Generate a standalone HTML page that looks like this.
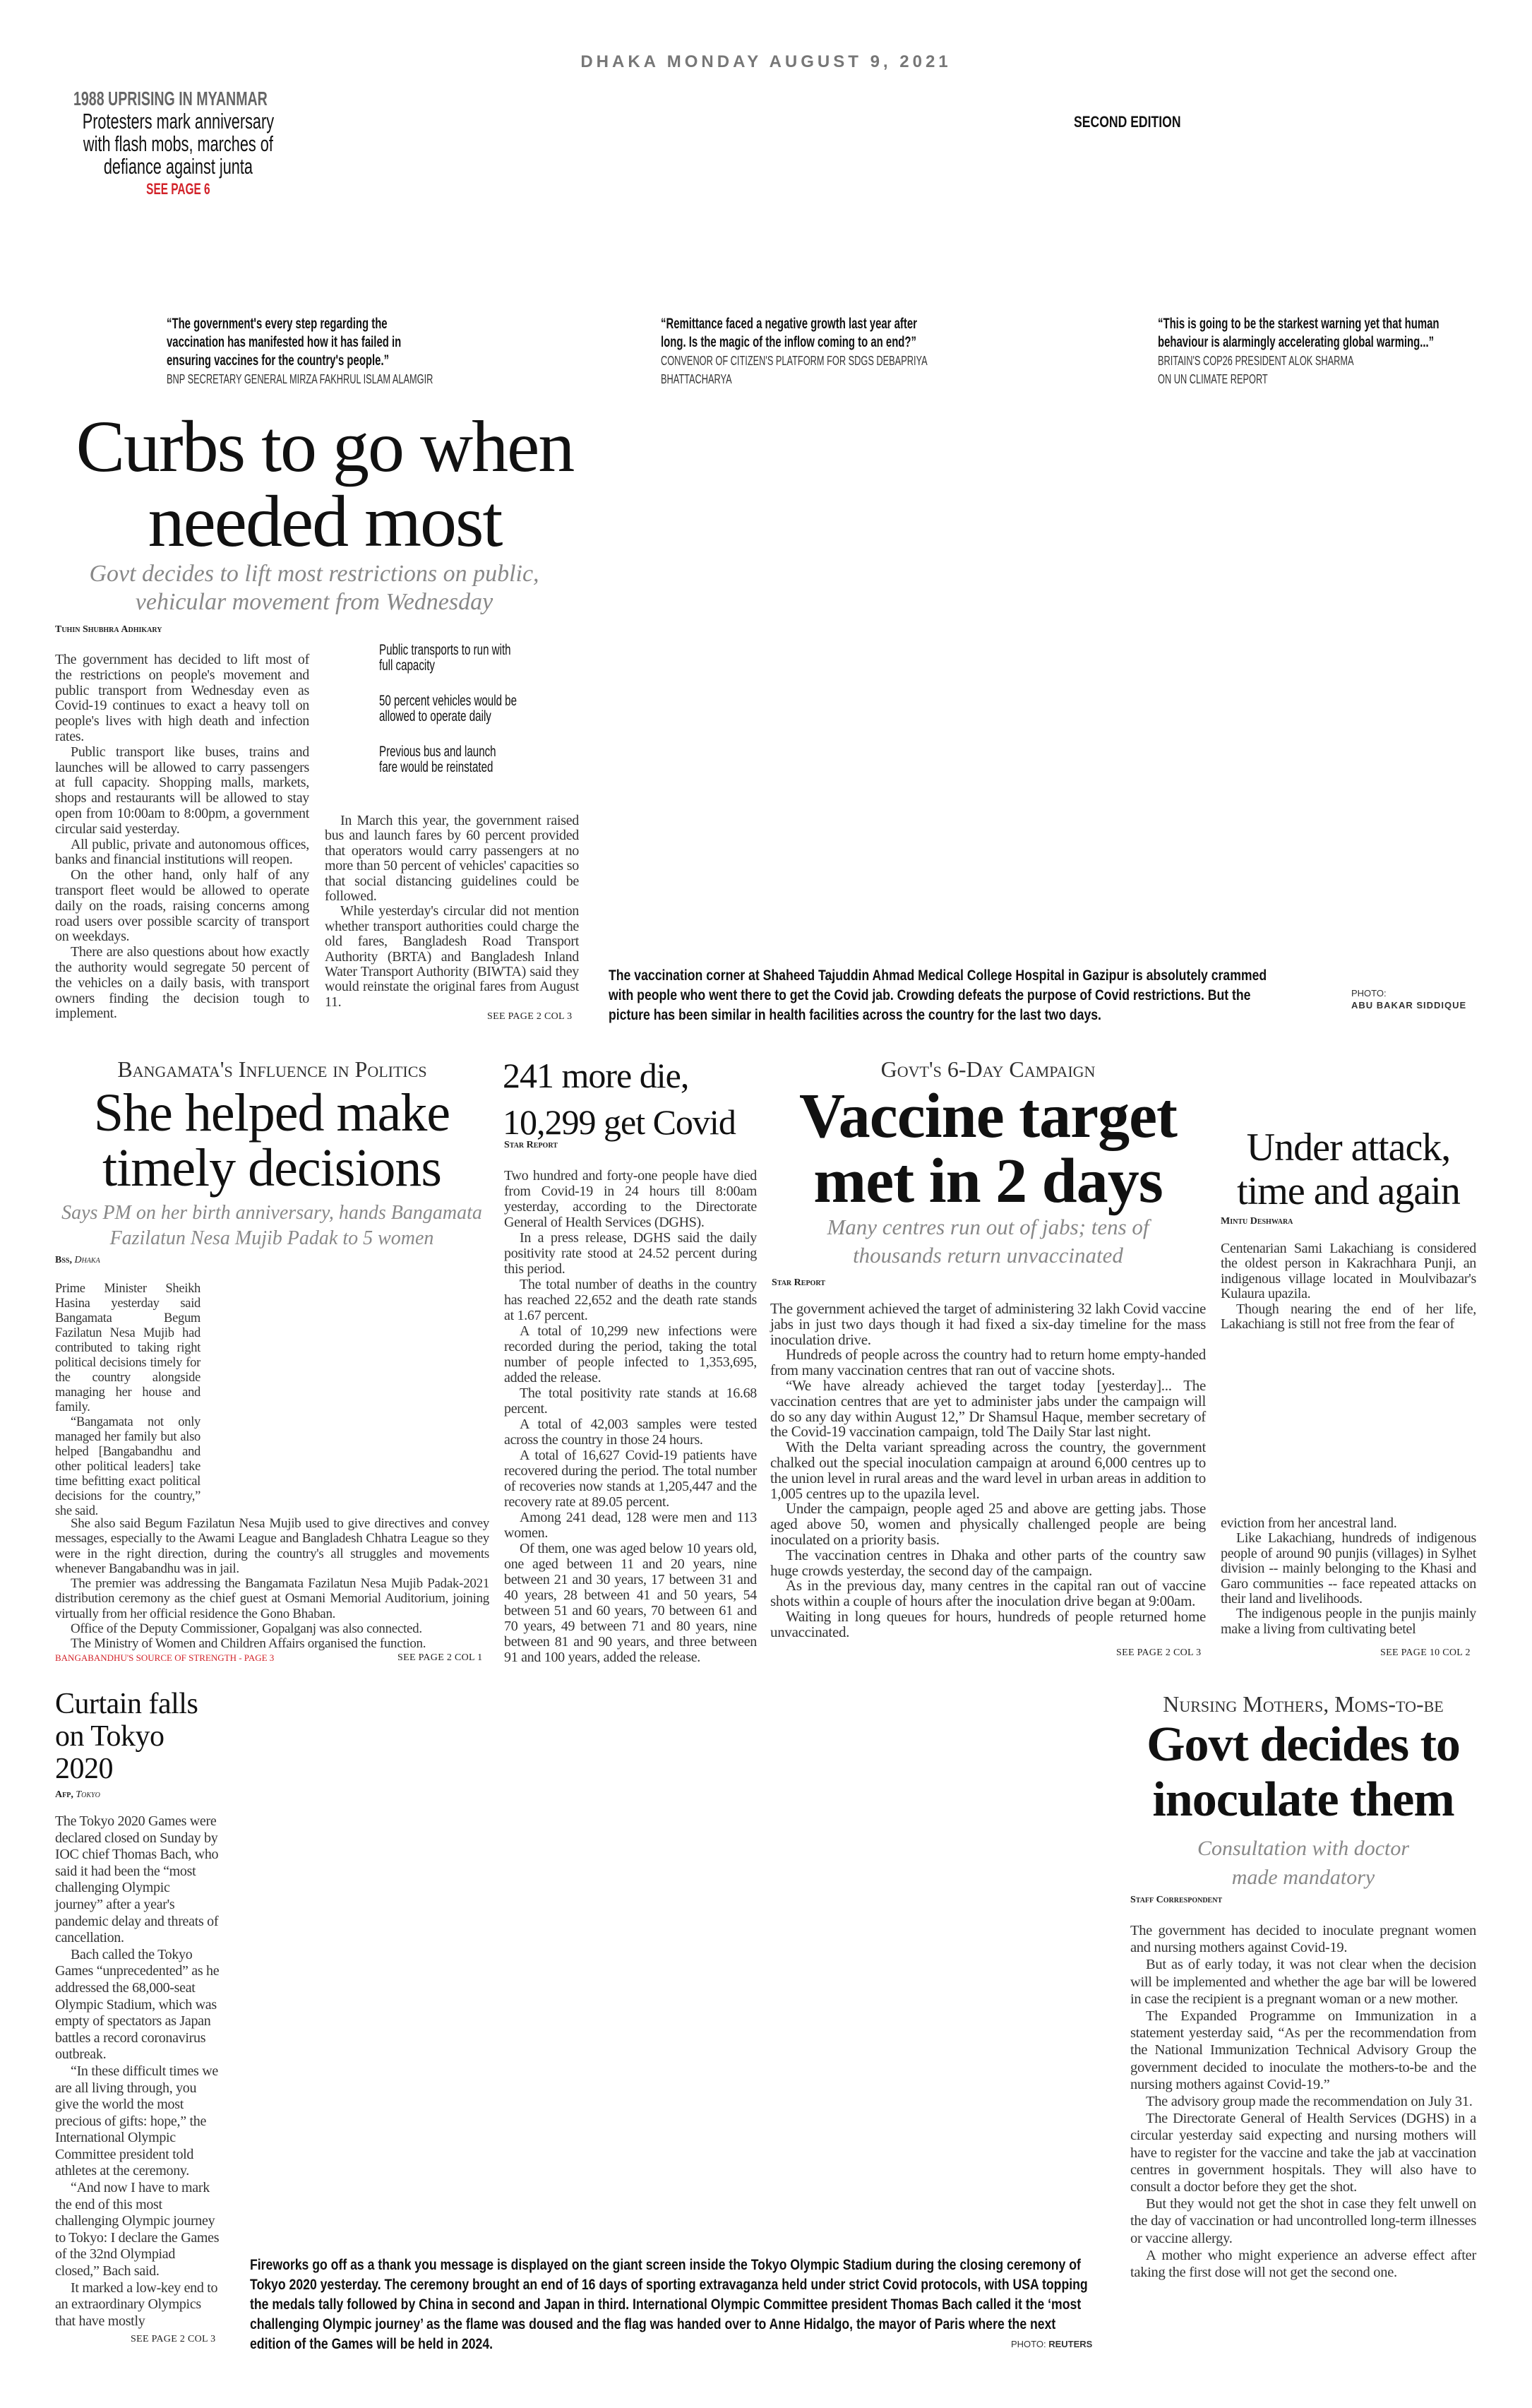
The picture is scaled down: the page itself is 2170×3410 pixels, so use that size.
<!DOCTYPE html>
<html><head><meta charset="utf-8">
<style>
*{margin:0;padding:0;box-sizing:border-box}
body{width:2170px;height:3410px;background:#fff;position:relative;overflow:hidden;font-family:"Liberation Serif",serif;color:#222}
.a{position:absolute}
.nar{font-family:"Liberation Sans",sans-serif}
.cx{transform-origin:left top}
.body{font-family:"Liberation Serif",serif;font-size:20px;line-height:21.4px;text-align:justify;letter-spacing:-0.3px;color:#333}
.body p{text-indent:22px}
.body p.f{text-indent:0}
.sc{font-variant:small-caps;font-size:15px;color:#222}
.hl{font-family:"Liberation Serif",serif;color:#111;text-align:center;letter-spacing:-1px}
.sub{font-family:"Liberation Serif",serif;font-style:italic;color:#888;text-align:center}
.kick{font-variant:small-caps;text-align:center;color:#333;font-family:"Liberation Serif",serif}
.see{font-size:14px;font-variant:small-caps;color:#222;letter-spacing:0.3px}
.cap{font-family:"Liberation Sans",sans-serif;font-weight:bold;font-size:21px;line-height:28px;color:#111;transform:scaleX(.84);transform-origin:left top}
.q{white-space:nowrap}
</style></head><body>

<div class="a nar" style="left:0;width:2170px;top:74px;text-align:center;font-size:24px;font-weight:bold;letter-spacing:5px;color:#777">DHAKA MONDAY AUGUST 9, 2021</div>

<div class="a nar cx" style="left:104px;width:424px;top:124px;text-align:center;line-height:32px;transform:scaleX(.7)">
<div style="font-size:28px;font-weight:bold;color:#666;text-align:left">1988 UPRISING IN MYANMAR</div>
<div style="font-size:31px;color:#111;white-space:nowrap">Protesters mark anniversary<br>with flash mobs, marches of<br>defiance against junta</div>
<div style="font-size:22px;font-weight:bold;color:#d2232a">SEE PAGE 6</div>
</div>

<div class="a nar cx" style="left:1521px;top:160px;font-size:22px;font-weight:bold;color:#111;transform:scaleX(.8)">SECOND EDITION</div>

<div class="a nar cx q" style="left:236px;top:446px;font-size:21px;line-height:26px;color:#111;transform:scaleX(.71)">
<b>“The government's every step regarding the<br>vaccination has manifested how it has failed in<br>ensuring vaccines for the country's people.”</b><br><span style="font-size:18px;color:#333">BNP SECRETARY GENERAL MIRZA FAKHRUL ISLAM ALAMGIR</span></div>
<div class="a nar cx q" style="left:936px;top:446px;font-size:21px;line-height:26px;color:#111;transform:scaleX(.71)">
<b>“Remittance faced a negative growth last year after<br>long. Is the magic of the inflow coming to an end?”</b><br><span style="font-size:18px;color:#333">CONVENOR OF CITIZEN'S PLATFORM FOR SDGS DEBAPRIYA<br>BHATTACHARYA</span></div>
<div class="a nar cx q" style="left:1640px;top:446px;font-size:21px;line-height:26px;color:#111;transform:scaleX(.71)">
<b>“This is going to be the starkest warning yet that human<br>behaviour is alarmingly accelerating global warming...”</b><br><span style="font-size:18px;color:#333">BRITAIN'S COP26 PRESIDENT ALOK SHARMA<br>ON UN CLIMATE REPORT</span></div>

<!-- Main story -->
<div class="a hl" style="left:30px;width:860px;top:580px;font-size:104px;line-height:106px;letter-spacing:-2px">Curbs to go when<br>needed most</div>
<div class="a sub" style="left:60px;width:770px;top:793px;font-size:34px;line-height:40px">Govt decides to lift most restrictions on public,<br>vehicular movement from Wednesday</div>
<div class="a sc" style="left:78px;top:884px;font-size:14px;font-weight:bold">Tuhin Shubhra Adhikary</div>
<div class="a body" style="left:78px;top:924px;width:360px;line-height:21.8px">
<p class="f">The government has decided to lift most of the restrictions on people's movement and public transport from Wednesday even as Covid-19 continues to exact a heavy toll on people's lives with high death and infection rates.</p>
<p>Public transport like buses, trains and launches will be allowed to carry passengers at full capacity. Shopping malls, markets, shops and restaurants will be allowed to stay open from 10:00am to 8:00pm, a government circular said yesterday.</p>
<p>All public, private and autonomous offices, banks and financial institutions will reopen.</p>
<p>On the other hand, only half of any transport fleet would be allowed to operate daily on the roads, raising concerns among road users over possible scarcity of transport on weekdays.</p>
<p>There are also questions about how exactly the authority would segregate 50 percent of the vehicles on a daily basis, with transport owners finding the decision tough to implement.</p>
</div>
<div class="a nar cx" style="left:537px;top:910px;width:300px;font-size:21px;line-height:22px;color:#111;transform:scaleX(.72)">
<div>Public transports to run with<br>full capacity</div>
<div style="margin-top:28px">50 percent vehicles would be<br>allowed to operate daily</div>
<div style="margin-top:28px">Previous bus and launch<br>fare would be reinstated</div>
</div>
<div class="a body" style="left:460px;top:1152px;width:360px">
<p>In March this year, the government raised bus and launch fares by 60 percent provided that operators would carry passengers at no more than 50 percent of vehicles' capacities so that social distancing guidelines could be followed.</p>
<p>While yesterday's circular did not mention whether transport authorities could charge the old fares, Bangladesh Road Transport Authority (BRTA) and Bangladesh Inland Water Transport Authority (BIWTA) said they would reinstate the original fares from August 11.</p>
</div>
<div class="a see" style="left:690px;top:1432px">SEE PAGE 2 COL 3</div>

<div class="a cap" style="left:862px;top:1368px;width:1120px">The vaccination corner at Shaheed Tajuddin Ahmad Medical College Hospital in Gazipur is absolutely crammed with people who went there to get the Covid jab. Crowding defeats the purpose of Covid restrictions. But the picture has been similar in health facilities across the country for the last two days.</div>
<div class="a nar" style="left:1914px;top:1398px;font-size:13px;color:#333;line-height:17px">PHOTO:<br><b style="letter-spacing:1px">ABU BAKAR SIDDIQUE</b></div>

<!-- Bangamata -->
<div class="a kick" style="left:78px;width:615px;top:1496px;font-size:32px">Bangamata's Influence in Politics</div>
<div class="a hl" style="left:70px;width:630px;top:1537px;font-size:76px;line-height:78px">She helped make<br>timely decisions</div>
<div class="a sub" style="left:70px;width:630px;top:1700px;font-size:28px;line-height:36px">Says PM on her birth anniversary, hands Bangamata<br>Fazilatun Nesa Mujib Padak to 5 women</div>
<div class="a sc" style="left:78px;top:1777px;font-size:14px;font-weight:bold">Bss, <i style="font-weight:normal">Dhaka</i></div>
<div class="a body" style="left:78px;top:1815px;width:206px;font-size:18.5px;line-height:21px">
<p class="f">Prime Minister Sheikh Hasina yesterday said Bangamata Begum Fazilatun Nesa Mujib had contributed to taking right political decisions timely for the country alongside managing her house and family.</p>
<p>“Bangamata not only managed her family but also helped [Bangabandhu and other political leaders] take time befitting exact political decisions for the country,” she said.</p>
</div>
<div class="a body" style="left:78px;top:2147px;width:615px;font-size:19px;line-height:21.3px">
<p>She also said Begum Fazilatun Nesa Mujib used to give directives and convey messages, especially to the Awami League and Bangladesh Chhatra League so they were in the right direction, during the country's all struggles and movements whenever Bangabandhu was in jail.</p>
<p>The premier was addressing the Bangamata Fazilatun Nesa Mujib Padak-2021 distribution ceremony as the chief guest at Osmani Memorial Auditorium, joining virtually from her official residence the Gono Bhaban.</p>
<p>Office of the Deputy Commissioner, Gopalganj was also connected.</p>
<p>The Ministry of Women and Children Affairs organised the function.</p>
</div>
<div class="a" style="left:78px;top:2340px;font-size:13px;color:#d2232a">BANGABANDHU'S SOURCE OF STRENGTH - PAGE 3</div>
<div class="a see" style="left:563px;top:2340px">SEE PAGE 2 COL 1</div>

<!-- 241 more die -->
<div class="a hl" style="left:712px;top:1490px;font-size:50px;line-height:66px;text-align:left;letter-spacing:-1px">241 more die,<br>10,299 get Covid</div>
<div class="a sc" style="left:714px;top:1614px;font-size:14px;font-weight:bold">Star Report</div>
<div class="a body" style="left:714px;top:1654px;width:358px;line-height:22px">
<p class="f">Two hundred and forty-one people have died from Covid-19 in 24 hours till 8:00am yesterday, according to the Directorate General of Health Services (DGHS).</p>
<p>In a press release, DGHS said the daily positivity rate stood at 24.52 percent during this period.</p>
<p>The total number of deaths in the country has reached 22,652 and the death rate stands at 1.67 percent.</p>
<p>A total of 10,299 new infections were recorded during the period, taking the total number of people infected to 1,353,695, added the release.</p>
<p>The total positivity rate stands at 16.68 percent.</p>
<p>A total of 42,003 samples were tested across the country in those 24 hours.</p>
<p>A total of 16,627 Covid-19 patients have recovered during the period. The total number of recoveries now stands at 1,205,447 and the recovery rate at 89.05 percent.</p>
<p>Among 241 dead, 128 were men and 113 women.</p>
<p>Of them, one was aged below 10 years old, one aged between 11 and 20 years, nine between 21 and 30 years, 17 between 31 and 40 years, 28 between 41 and 50 years, 54 between 51 and 60 years, 70 between 61 and 70 years, 49 between 71 and 80 years, nine between 81 and 90 years, and three between 91 and 100 years, added the release.</p>
</div>

<!-- Vaccine target -->
<div class="a kick" style="left:1091px;width:617px;top:1496px;font-size:32px">Govt's 6-Day Campaign</div>
<div class="a hl" style="left:1091px;width:617px;top:1535px;font-size:90px;line-height:92px;font-weight:bold">Vaccine target<br>met in 2 days</div>
<div class="a sub" style="left:1091px;width:617px;top:1718px;font-size:31px;line-height:40px">Many centres run out of jabs; tens of<br>thousands return unvaccinated</div>
<div class="a sc" style="left:1093px;top:1809px;font-size:14px;font-weight:bold">Star Report</div>
<div class="a body" style="left:1091px;top:1843px;width:617px;font-size:21px;line-height:21.8px">
<p class="f">The government achieved the target of administering 32 lakh Covid vaccine jabs in just two days though it had fixed a six-day timeline for the mass inoculation drive.</p>
<p>Hundreds of people across the country had to return home empty-handed from many vaccination centres that ran out of vaccine shots.</p>
<p>“We have already achieved the target today [yesterday]... The vaccination centres that are yet to administer jabs under the campaign will do so any day within August 12,” Dr Shamsul Haque, member secretary of the Covid-19 vaccination campaign, told The Daily Star last night.</p>
<p>With the Delta variant spreading across the country, the government chalked out the special inoculation campaign at around 6,000 centres up to the union level in rural areas and the ward level in urban areas in addition to 1,005 centres up to the upazila level.</p>
<p>Under the campaign, people aged 25 and above are getting jabs. Those aged above 50, women and physically challenged people are being inoculated on a priority basis.</p>
<p>The vaccination centres in Dhaka and other parts of the country saw huge crowds yesterday, the second day of the campaign.</p>
<p>As in the previous day, many centres in the capital ran out of vaccine shots within a couple of hours after the inoculation drive began at 9:00am.</p>
<p>Waiting in long queues for hours, hundreds of people returned home unvaccinated.</p>
</div>
<div class="a see" style="left:1581px;top:2333px">SEE PAGE 2 COL 3</div>

<!-- Under attack -->
<div class="a hl" style="left:1729px;width:362px;top:1594px;font-size:56px;line-height:62px">Under attack,<br>time and again</div>
<div class="a sc" style="left:1729px;top:1722px;font-size:14px;font-weight:bold">Mintu Deshwara</div>
<div class="a body" style="left:1729px;top:1758px;width:362px">
<p class="f">Centenarian Sami Lakachiang is considered the oldest person in Kakrachhara Punji, an indigenous village located in Moulvibazar's Kulaura upazila.</p>
<p>Though nearing the end of her life, Lakachiang is still not free from the fear of</p>
</div>
<div class="a body" style="left:1729px;top:2147px;width:362px">
<p class="f">eviction from her ancestral land.</p>
<p>Like Lakachiang, hundreds of indigenous people of around 90 punjis (villages) in Sylhet division -- mainly belonging to the Khasi and Garo communities -- face repeated attacks on their land and livelihoods.</p>
<p>The indigenous people in the punjis mainly make a living from cultivating betel</p>
</div>
<div class="a see" style="left:1955px;top:2333px">SEE PAGE 10 COL 2</div>

<!-- Tokyo -->
<div class="a hl" style="left:78px;top:2390px;font-size:42px;line-height:46px;text-align:left;letter-spacing:-0.5px">Curtain falls<br>on Tokyo<br>2020</div>
<div class="a sc" style="left:78px;top:2534px;font-size:14px;font-weight:bold">Afp, <i style="font-weight:normal">Tokyo</i></div>
<div class="a body" style="left:78px;top:2568px;width:234px;text-align:left;line-height:23.6px">
<p class="f">The Tokyo 2020 Games were declared closed on Sunday by IOC chief Thomas Bach, who said it had been the “most challenging Olympic journey” after a year's pandemic delay and threats of cancellation.</p>
<p>Bach called the Tokyo Games “unprecedented” as he addressed the 68,000-seat Olympic Stadium, which was empty of spectators as Japan battles a record coronavirus outbreak.</p>
<p>“In these difficult times we are all living through, you give the world the most precious of gifts: hope,” the International Olympic Committee president told athletes at the ceremony.</p>
<p>“And now I have to mark the end of this most challenging Olympic journey to Tokyo: I declare the Games of the 32nd Olympiad closed,” Bach said.</p>
<p>It marked a low-key end to an extraordinary Olympics that have mostly</p>
</div>
<div class="a see" style="left:185px;top:3305px">SEE PAGE 2 COL 3</div>

<div class="a cap" style="left:354px;top:3194px;width:1426px">Fireworks go off as a thank you message is displayed on the giant screen inside the Tokyo Olympic Stadium during the closing ceremony of Tokyo 2020 yesterday. The ceremony brought an end of 16 days of sporting extravaganza held under strict Covid protocols, with USA topping the medals tally followed by China in second and Japan in third. International Olympic Committee president Thomas Bach called it the ‘most challenging Olympic journey’ as the flame was doused and the flag was handed over to Anne Hidalgo, the mayor of Paris where the next edition of the Games will be held in 2024.</div>
<div class="a nar" style="left:1432px;top:3312px;font-size:13px;color:#333">PHOTO: <b>REUTERS</b></div>

<!-- Nursing mothers -->
<div class="a kick" style="left:1600px;width:492px;top:2395px;font-size:32px">Nursing Mothers, Moms-to-be</div>
<div class="a hl" style="left:1600px;width:492px;top:2432px;font-size:70px;line-height:78px;font-weight:bold">Govt decides to<br>inoculate them</div>
<div class="a sub" style="left:1600px;width:492px;top:2597px;font-size:30px;line-height:41px">Consultation with doctor<br>made mandatory</div>
<div class="a sc" style="left:1601px;top:2683px;font-size:14px;font-weight:bold">Staff Correspondent</div>
<div class="a body" style="left:1601px;top:2722px;width:490px;font-size:20.5px;line-height:24.2px">
<p class="f">The government has decided to inoculate pregnant women and nursing mothers against Covid-19.</p>
<p>But as of early today, it was not clear when the decision will be implemented and whether the age bar will be lowered in case the recipient is a pregnant woman or a new mother.</p>
<p>The Expanded Programme on Immunization in a statement yesterday said, “As per the recommendation from the National Immunization Technical Advisory Group the government decided to inoculate the mothers-to-be and the nursing mothers against Covid-19.”</p>
<p>The advisory group made the recommendation on July 31.</p>
<p>The Directorate General of Health Services (DGHS) in a circular yesterday said expecting and nursing mothers will have to register for the vaccine and take the jab at vaccination centres in government hospitals. They will also have to consult a doctor before they get the shot.</p>
<p>But they would not get the shot in case they felt unwell on the day of vaccination or had uncontrolled long-term illnesses or vaccine allergy.</p>
<p>A mother who might experience an adverse effect after taking the first dose will not get the second one.</p>
</div>

</body></html>
